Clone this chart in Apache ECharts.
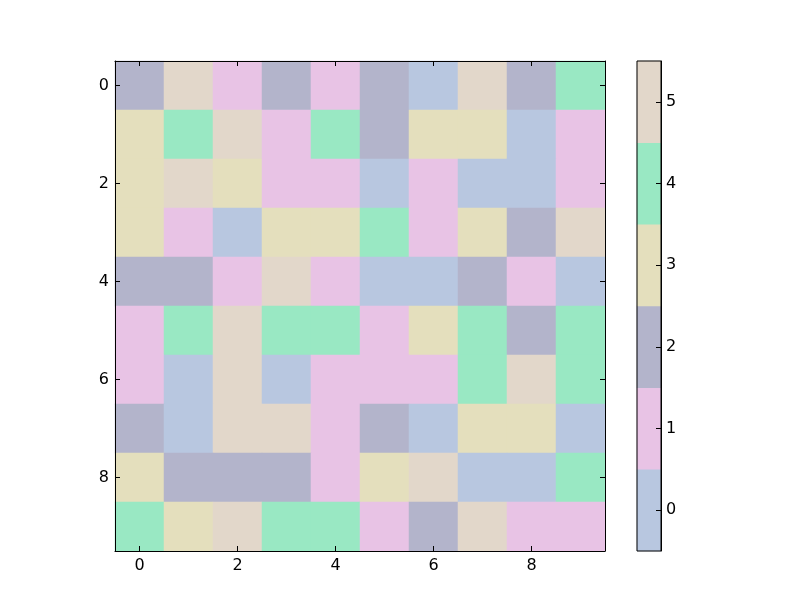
<!DOCTYPE html>
<html>
<head>
<meta charset="utf-8">
<script src="https://cdn.jsdelivr.net/npm/echarts@6/dist/echarts.min.js"></script>
<style>
html,body{margin:0;padding:0;background:#fff;}
#chart{width:812px;height:612px;}
</style>
</head>
<body>
<div id="chart"></div>
<script>
// Categories (column / row indices)
const xCategories = ['0','1','2','3','4','5','6','7','8','9'];
const yCategories = ['0','1','2','3','4','5','6','7','8','9'];
// Cell values, one array per row (row 0 at top)
const row0 = [2,5,1,2,1,2,0,5,2,4];
const row1 = [3,4,5,1,4,2,3,3,0,1];
const row2 = [3,5,3,1,1,0,1,0,0,1];
const row3 = [3,1,0,3,3,4,1,3,2,5];
const row4 = [2,2,1,5,1,0,0,2,1,0];
const row5 = [1,4,5,4,4,1,3,4,2,4];
const row6 = [1,0,5,0,1,1,1,4,5,4];
const row7 = [2,0,5,5,1,2,0,3,3,0];
const row8 = [3,2,2,2,1,3,5,0,0,4];
const row9 = [4,3,5,4,4,1,2,5,1,1];
const rows = [row0,row1,row2,row3,row4,row5,row6,row7,row8,row9];
// Colorbar levels and colours
const levels = ['0','1','2','3','4','5'];
const levelColors = ['#b8c7e0','#e8c3e5','#b3b4cb','#e4dfbd','#99e8c3','#e2d7ca'];

const heatData = [];
rows.forEach((r, yi) => r.forEach((v, xi) => heatData.push([xi, yi, v])));
const barData = levels.map((l, i) => [0, i, i]);

const font = 'DejaVu Sans';
const tickStyle = {show:true, inside:true, length:5, alignWithLabel:true, interval:1, lineStyle:{color:'#000', width:1}};
const lineStyle = {show:true, lineStyle:{color:'#000', width:1}};

const chart = echarts.init(document.getElementById('chart'), null, {renderer:'canvas'});
chart.setOption({
  animation:false,
  backgroundColor:'#fff',
  grid:[
    {left:115, top:61, width:490, height:490, show:false},
    {left:637, top:61, width:24, height:490, show:true, borderColor:'#000', borderWidth:1, backgroundColor:'transparent', z:10}
  ],
  xAxis:[
    {type:'category', data:xCategories, gridIndex:0, position:'bottom', z:10, axisLine:lineStyle, axisTick:tickStyle,
     axisLabel:{interval:1, color:'#000', fontFamily:font, fontSize:16, margin:7}, splitLine:{show:false}},
    {type:'category', data:xCategories, gridIndex:0, position:'top', z:10, axisLine:lineStyle, axisTick:tickStyle,
     axisLabel:{show:false}, splitLine:{show:false}},
    {type:'category', data:['c'], gridIndex:1, axisLine:{show:false}, axisTick:{show:false}, axisLabel:{show:false}, splitLine:{show:false}}
  ],
  yAxis:[
    {type:'category', data:yCategories, gridIndex:0, inverse:true, position:'left', z:10, axisLine:lineStyle, axisTick:tickStyle,
     axisLabel:{interval:1, color:'#000', fontFamily:font, fontSize:16, margin:6}, splitLine:{show:false}},
    {type:'category', data:yCategories, gridIndex:0, inverse:true, position:'right', z:10, axisLine:lineStyle, axisTick:tickStyle,
     axisLabel:{show:false}, splitLine:{show:false}},
    {type:'category', data:levels, gridIndex:1, position:'right', z:10, axisLine:lineStyle,
     axisTick:{show:true, inside:true, length:5, alignWithLabel:true, interval:0, lineStyle:{color:'#000', width:1}},
     axisLabel:{interval:0, color:'#000', fontFamily:font, fontSize:16, margin:5}, splitLine:{show:false}}
  ],
  visualMap:{
    type:'piecewise', show:false, dimension:2,
    pieces: levels.map((l, i) => ({value:i, color:levelColors[i]}))
  },
  series:[
    {type:'heatmap', xAxisIndex:0, yAxisIndex:0, z:2, data:heatData, itemStyle:{borderWidth:0}, emphasis:{disabled:true}},
    {type:'heatmap', xAxisIndex:2, yAxisIndex:2, z:2, data:barData, itemStyle:{borderWidth:0}, emphasis:{disabled:true}}
  ]
});
</script>
</body>
</html>
